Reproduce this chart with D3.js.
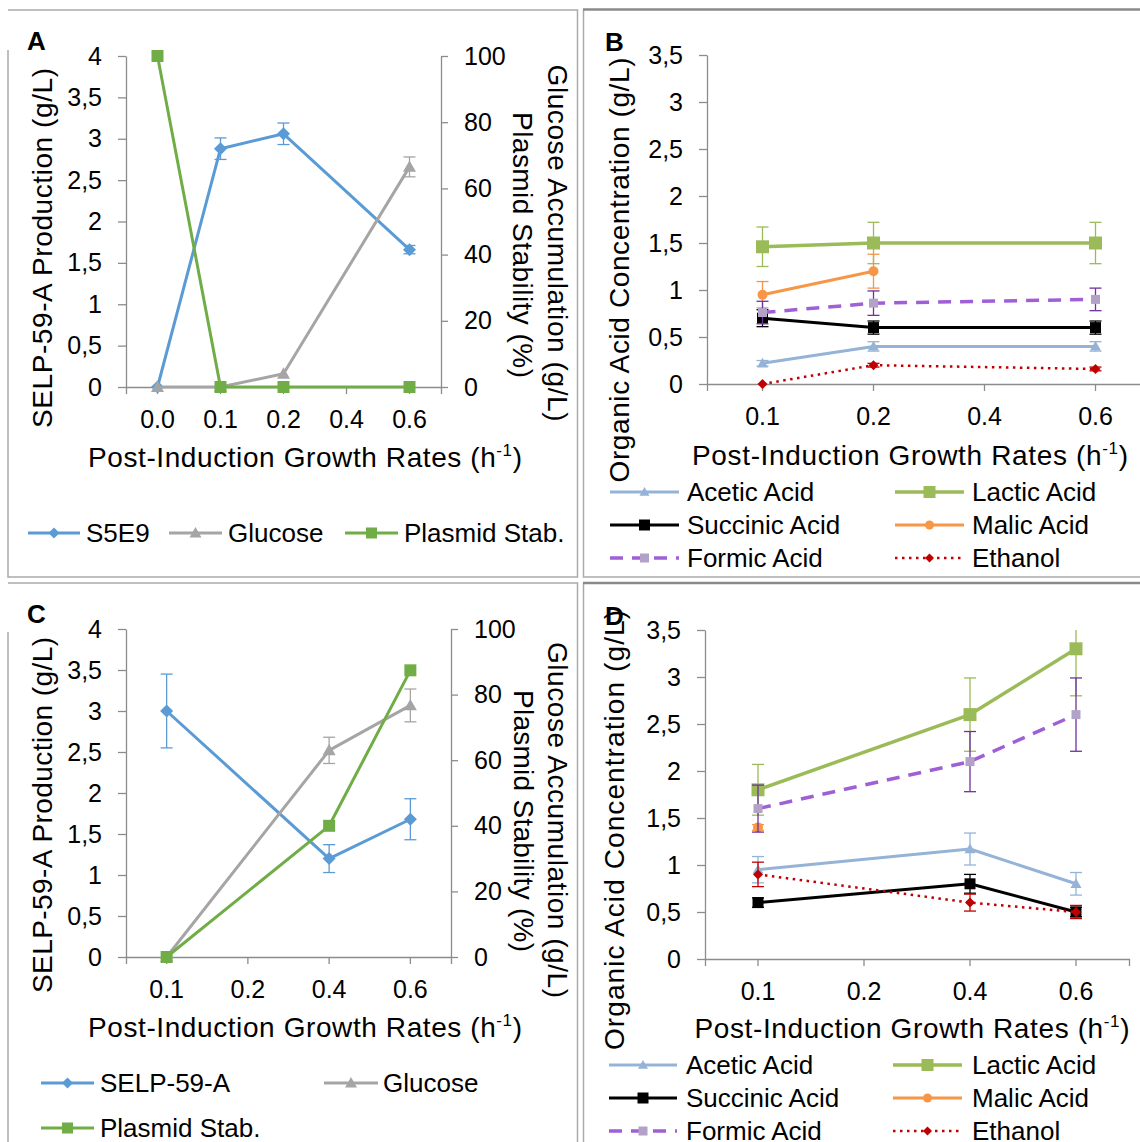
<!DOCTYPE html>
<html>
<head>
<meta charset="utf-8">
<script src="https://cdn.jsdelivr.net/npm/d3@7/dist/d3.min.js"></script>
<style>
  body { margin: 0; background: #fff; }
</style>
</head>
<body>
<svg id="fig" width="1140" height="1142"></svg>
<script>
// Categories (post-induction growth rates)
const ratesA = ['0.0', '0.1', '0.2', '0.4', '0.6'];
const rates = ['0.1', '0.2', '0.4', '0.6'];

// Panel A
const prodA = [0, 2.88, 3.06, null, 1.66];
const prodErrA = [0, 0.13, 0.13, null, 0.05];
const glucoseA = [0, 0, 4, null, 66.5];
const glucoseErrA = [0, 0, 0, null, 3];
const plasmidA = [100, 0, 0, null, 0];

// Panel C
const prodC = [3.0, null, 1.2, 1.68];
const prodErrC = [0.45, null, 0.17, 0.25];
const glucoseC = [0, null, 63, 76.7];
const glucoseErrC = [0, null, 4, 5];
const plasmidC = [0, null, 40, 87.4];

// Panel B
const aceticB = [0.22, 0.4, null, 0.4];
const aceticErrB = [0.03, 0.05, null, 0.05];
const lacticB = [1.46, 1.5, null, 1.5];
const lacticErrB = [0.21, 0.22, null, 0.22];
const succinicB = [0.7, 0.6, null, 0.6];
const succinicErrB = [0.09, 0.07, null, 0.07];
const malicB = [0.95, 1.2, null, null];
const malicErrB = [0.14, 0.18, null, null];
const formicB = [0.76, 0.86, null, 0.9];
const formicErrB = [0.12, 0.13, null, 0.12];
const ethanolB = [0, 0.2, null, 0.16];
const ethanolErrB = [0, 0.02, null, 0.02];

// Panel D
const aceticD = [0.95, null, 1.17, 0.8];
const aceticErrD = [0.14, null, 0.17, 0.12];
const lacticD = [1.8, null, 2.6, 3.3];
const lacticErrD = [0.27, null, 0.39, 0.5];
const succinicD = [0.6, null, 0.8, 0.5];
const succinicErrD = [0.05, null, 0.1, 0.05];
const malicD = [1.4, null, null, null];
const malicErrD = [0.03, null, null, null];
const formicD = [1.6, null, 2.1, 2.6];
const formicErrD = [0.25, null, 0.32, 0.39];
const ethanolD = [0.9, null, 0.6, 0.5];
const ethanolErrD = [0.13, null, 0.09, 0.07];

// Tick values
const prodTicks = [0, 0.5, 1, 1.5, 2, 2.5, 3, 3.5, 4];
const pctTicks = [0, 20, 40, 60, 80, 100];
const acidTicks = [0, 0.5, 1, 1.5, 2, 2.5, 3, 3.5];

// Labels
const namesA = ['S5E9', 'Glucose', 'Plasmid Stab.'];
const namesC = ['SELP-59-A', 'Glucose', 'Plasmid Stab.'];
const acidNames = ['Acetic Acid', 'Lactic Acid', 'Succinic Acid', 'Malic Acid', 'Formic Acid', 'Ethanol'];

const FONT = '"Liberation Sans", Arial, Helvetica, sans-serif';
const AXIS_GRAY = '#8c8c8c';
const FRAME_GRAY = '#aaaaaa';

const STYLE = {
  prod: { color: '#5B9BD5', width: 3, marker: 'diamond', size: 13, legendSize: 11 },
  glucose: { color: '#A5A5A5', width: 3, marker: 'triangle', size: 13, legendSize: 12 },
  plasmid: { color: '#70AD47', width: 3, marker: 'square', size: 12, legendSize: 11 },
  acetic: { color: '#95B3D7', width: 3, marker: 'triangle', size: 11, legendSize: 10 },
  lactic: { color: '#9BBB59', width: 3.5, marker: 'square', size: 13, legendSize: 12 },
  succinic: { color: '#000000', width: 3, marker: 'square', size: 11, legendSize: 11 },
  malic: { color: '#F79646', width: 3, marker: 'circle', size: 10, legendSize: 9 },
  formic: { color: '#9F5FD6', width: 3.5, dash: '13,9', marker: 'square', size: 9, fill: '#B3A2C7', err: '#7030A0', legendSize: 9 },
  ethanol: { color: '#C00000', width: 2.5, dash: '2.5,4.5', marker: 'diamond', size: 10, legendSize: 9 },
};

const svg = d3.select('#fig').attr('font-family', FONT);
svg.append('rect').attr('width', 1140).attr('height', 1142).attr('fill', '#fff');

const commaFmt = (d) => String(d).replace('.', ',');

function markerPath(type, s) {
  const h = s / 2;
  switch (type) {
    case 'diamond': return `M0,${-h}L${h},0L0,${h}L${-h},0Z`;
    case 'square': return `M${-h},${-h}H${h}V${h}H${-h}Z`;
    case 'triangle': return `M0,${-h}L${h},${h * 0.75}L${-h},${h * 0.75}Z`;
    default: return d3.symbol(d3.symbolCircle, Math.PI * h * h)();
  }
}

function styleAxis(sel) {
  sel.attr('font-family', FONT).attr('font-size', 25);
  sel.selectAll('path.domain, line').attr('stroke', AXIS_GRAY).attr('stroke-width', 1.3);
  sel.selectAll('text').attr('fill', '#000');
}

function drawPanel(p) {
  const g = svg.append('g');
  const x = d3.scaleBand().domain(p.cats).range([p.left, p.right]);
  const cx = (c) => x(c) + x.bandwidth() / 2;
  const y = d3.scaleLinear().domain([0, d3.max(p.leftTicks)]).range([p.bottom, p.top]);
  const y2 = p.rightTicks
    ? d3.scaleLinear().domain([0, d3.max(p.rightTicks)]).range([p.bottom, p.top])
    : null;

  const clipId = `clip-${p.id}`;
  svg.append('clipPath').attr('id', clipId).append('rect')
    .attr('x', p.left - 20).attr('y', p.top)
    .attr('width', p.right - p.left + 40).attr('height', p.bottom - p.top + 20);

  g.append('g').attr('transform', `translate(0,${p.bottom})`)
    .call(d3.axisBottom(x).tickSize(7).tickSizeOuter(7).tickPadding(16))
    .call(styleAxis);
  g.append('g').attr('transform', `translate(${p.left},0)`)
    .call(d3.axisLeft(y).tickValues(p.leftTicks).tickFormat(commaFmt)
      .tickSize(8).tickSizeOuter(0).tickPadding(16))
    .call(styleAxis);
  if (y2) {
    g.append('g').attr('transform', `translate(${p.right},0)`)
      .call(d3.axisRight(y2).tickValues(p.rightTicks).tickSize(7).tickSizeOuter(0).tickPadding(16))
      .call(styleAxis);
  }

  p.series.forEach((s) => {
    const st = STYLE[s.key];
    const sc = s.axis === 'right' ? y2 : y;
    const pts = p.cats
      .map((c, i) => ({ c, v: s.values[i], e: s.errors ? s.errors[i] : null }))
      .filter((d) => d.v != null);

    g.append('path').datum(pts)
      .attr('fill', 'none')
      .attr('stroke', st.color)
      .attr('stroke-width', st.width)
      .attr('stroke-dasharray', st.dash || null)
      .attr('stroke-linejoin', 'round')
      .attr('d', d3.line().x((d) => cx(d.c)).y((d) => sc(d.v)));

    // Error bars, clipped to the plot area
    const eb = g.append('g').attr('clip-path', `url(#${clipId})`)
      .attr('stroke', st.err || st.color).attr('stroke-width', 1.3);
    pts.filter((d) => d.e).forEach((d) => {
      const px = cx(d.c);
      const lo = sc(d.v - d.e);
      const hi = sc(d.v + d.e);
      eb.append('line').attr('x1', px).attr('x2', px).attr('y1', lo).attr('y2', hi);
      [lo, hi].forEach((yy) => {
        eb.append('line').attr('x1', px - 6).attr('x2', px + 6).attr('y1', yy).attr('y2', yy);
      });
    });

    g.append('g').selectAll('path').data(pts).join('path')
      .attr('transform', (d) => `translate(${cx(d.c)},${sc(d.v)})`)
      .attr('d', markerPath(st.marker, st.size))
      .attr('fill', st.fill || st.color);
  });
}

function drawLegend(items) {
  items.forEach((it) => {
    const st = STYLE[it.key];
    const g = svg.append('g');
    g.append('line')
      .attr('x1', it.x1).attr('x2', it.x2).attr('y1', it.y).attr('y2', it.y)
      .attr('stroke', st.color).attr('stroke-width', st.width)
      .attr('stroke-dasharray', st.dash || null);
    g.append('path')
      .attr('transform', `translate(${(it.x1 + it.x2) / 2},${it.y})`)
      .attr('d', markerPath(st.marker, st.legendSize))
      .attr('fill', st.fill || st.color);
    g.append('text').attr('x', it.tx).attr('y', it.y + 9)
      .attr('font-size', 26).text(it.label);
  });
}

function rateTitle(cx, by, len) {
  const t = svg.append('text')
    .attr('x', cx).attr('y', by)
    .attr('text-anchor', 'middle').attr('font-size', 28)
    .attr('textLength', len).attr('lengthAdjust', 'spacing');
  t.append('tspan').text('Post-Induction Growth Rates (h');
  t.append('tspan').attr('font-size', 17).attr('dy', -11).text('-1');
  t.append('tspan').attr('dy', 11).text(')');
}

function vTitle(bx, cy, rot, len, label) {
  svg.append('text')
    .attr('transform', `translate(${bx},${cy}) rotate(${rot})`)
    .attr('text-anchor', 'middle').attr('font-size', 28)
    .attr('textLength', len).attr('lengthAdjust', 'spacing')
    .text(label);
}

function panelLabel(x, y, label) {
  svg.append('text').attr('x', x).attr('y', y)
    .attr('font-size', 26).attr('font-weight', 'bold').text(label);
}

// Frames around the four panels
const frames = [
  { d: 'M8,50V577H577.5V10H8', color: FRAME_GRAY, w: 1.5 },
  { d: 'M583.5,10V577H1140', color: FRAME_GRAY, w: 1.5 },
  { d: 'M583,9.5H1140', color: '#8a8a8a', w: 2.5 },
  { d: 'M8,632V1142M577.5,1142V583H8', color: FRAME_GRAY, w: 1.5 },
  { d: 'M583.5,583V1142', color: FRAME_GRAY, w: 1.5 },
  { d: 'M583,583H1140', color: '#8a8a8a', w: 2.5 },
];
svg.append('g').selectAll('path').data(frames).join('path')
  .attr('d', (d) => d.d).attr('fill', 'none')
  .attr('stroke', (d) => d.color).attr('stroke-width', (d) => d.w);

// Panel A
drawPanel({
  id: 'a', cats: ratesA, left: 126, right: 441, top: 56, bottom: 387,
  leftTicks: prodTicks, rightTicks: pctTicks,
  series: [
    { key: 'prod', values: prodA, errors: prodErrA },
    { key: 'glucose', values: glucoseA, errors: glucoseErrA, axis: 'right' },
    { key: 'plasmid', values: plasmidA, axis: 'right' },
  ],
});
panelLabel(27, 50, 'A');
vTitle(52, 248, -90, 360, 'SELP-59-A Production (g/L)');
vTitle(548, 243, 90, 357, 'Glucose Accumulation (g/L)');
vTitle(513, 245, 90, 266, 'Plasmid Stability (%)');
rateTitle(305, 467, 434);
drawLegend([
  { key: 'prod', label: namesA[0], x1: 28, x2: 80, tx: 86, y: 533 },
  { key: 'glucose', label: namesA[1], x1: 169, x2: 222, tx: 228, y: 533 },
  { key: 'plasmid', label: namesA[2], x1: 345, x2: 398, tx: 404, y: 533 },
]);

// Panel B
drawPanel({
  id: 'b', cats: rates, left: 707, right: 1151, top: 55, bottom: 384,
  leftTicks: acidTicks,
  series: [
    { key: 'acetic', values: aceticB, errors: aceticErrB },
    { key: 'lactic', values: lacticB, errors: lacticErrB },
    { key: 'succinic', values: succinicB, errors: succinicErrB },
    { key: 'malic', values: malicB, errors: malicErrB },
    { key: 'formic', values: formicB, errors: formicErrB },
    { key: 'ethanol', values: ethanolB, errors: ethanolErrB },
  ],
});
panelLabel(605, 51, 'B');
vTitle(629, 270, -90, 425, 'Organic Acid Concentration (g/L)');
rateTitle(910, 465, 436);

const acidKeys = ['acetic', 'lactic', 'succinic', 'malic', 'formic', 'ethanol'];
function acidLegend(rows, left, right) {
  drawLegend(acidKeys.map((key, i) => {
    const col = i % 2 === 0 ? left : right;
    return { key, label: acidNames[i], x1: col.x1, x2: col.x2, tx: col.tx, y: rows[Math.floor(i / 2)] };
  }));
}
acidLegend([492, 525, 558], { x1: 610, x2: 679, tx: 687 }, { x1: 895, x2: 964, tx: 972 });

// Panel C
drawPanel({
  id: 'c', cats: rates, left: 126, right: 451, top: 629, bottom: 957,
  leftTicks: prodTicks, rightTicks: pctTicks,
  series: [
    { key: 'prod', values: prodC, errors: prodErrC },
    { key: 'glucose', values: glucoseC, errors: glucoseErrC, axis: 'right' },
    { key: 'plasmid', values: plasmidC, axis: 'right' },
  ],
});
panelLabel(27, 623, 'C');
vTitle(52, 815, -90, 356, 'SELP-59-A Production (g/L)');
vTitle(548, 820, 90, 356, 'Glucose Accumulation (g/L)');
vTitle(514, 821, 90, 262, 'Plasmid Stability (%)');
rateTitle(305, 1037, 434);
drawLegend([
  { key: 'prod', label: namesC[0], x1: 41, x2: 94, tx: 100, y: 1083 },
  { key: 'glucose', label: namesC[1], x1: 324, x2: 378, tx: 383, y: 1083 },
  { key: 'plasmid', label: namesC[2], x1: 41, x2: 94, tx: 100, y: 1128 },
]);

// Panel D
drawPanel({
  id: 'd', cats: rates, left: 705, right: 1129, top: 630, bottom: 959,
  leftTicks: acidTicks,
  series: [
    { key: 'acetic', values: aceticD, errors: aceticErrD },
    { key: 'lactic', values: lacticD, errors: lacticErrD },
    { key: 'succinic', values: succinicD, errors: succinicErrD },
    { key: 'malic', values: malicD, errors: malicErrD },
    { key: 'formic', values: formicD, errors: formicErrD },
    { key: 'ethanol', values: ethanolD, errors: ethanolErrD },
  ],
});
panelLabel(605, 625, 'D');
vTitle(624, 830, -90, 440, 'Organic Acid Concentration (g/L)');
rateTitle(912, 1038, 435);
acidLegend([1065, 1098, 1131], { x1: 609, x2: 677, tx: 686 }, { x1: 893, x2: 962, tx: 972 });
</script>
</body>
</html>
